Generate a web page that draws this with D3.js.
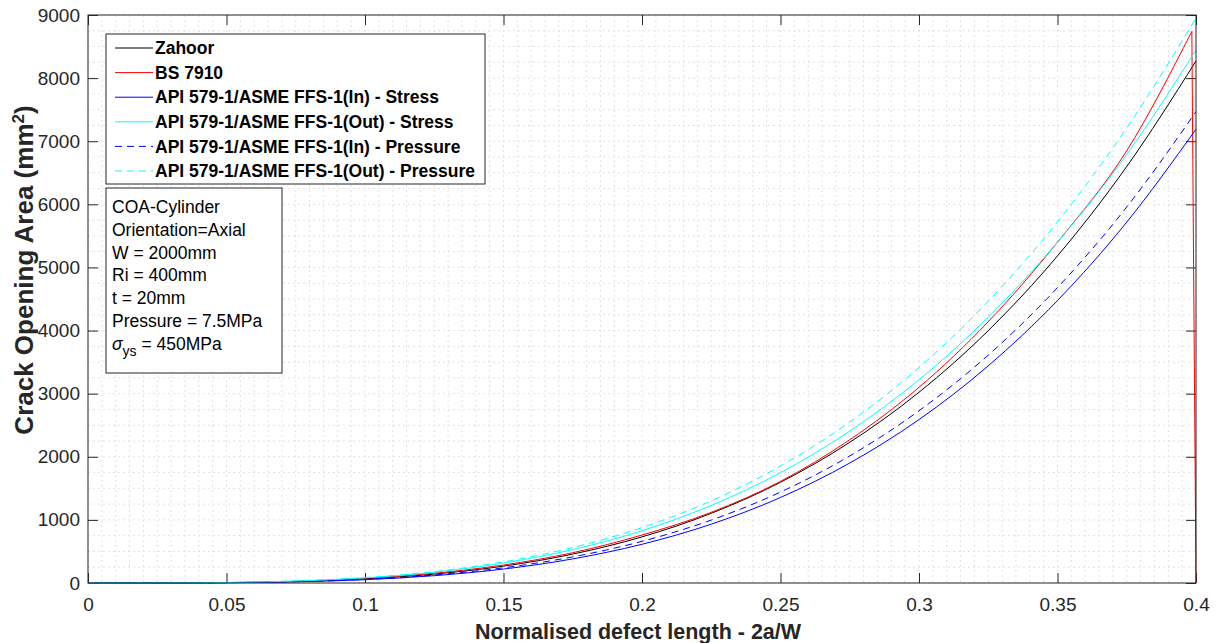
<!DOCTYPE html>
<html>
<head>
<meta charset="utf-8">
<script src="https://cdn.jsdelivr.net/npm/d3@7/dist/d3.min.js"></script>
<style>
body { margin: 0; background: #fff; }
text { font-family: "Liberation Sans", Arial, Helvetica, sans-serif; }
</style>
</head>
<body>
<div id="chart"></div>
<script>
// tick values
var xTicks = [0, 0.05, 0.1, 0.15, 0.2, 0.25, 0.3, 0.35, 0.4];
var xTickLabels = ["0", "0.05", "0.1", "0.15", "0.2", "0.25", "0.3", "0.35", "0.4"];
var yTicks = [0, 1000, 2000, 3000, 4000, 5000, 6000, 7000, 8000, 9000];

// normalised defect length 2a/W (shared by most series)
var defectX = [0, 0.025, 0.05, 0.075, 0.1, 0.125, 0.15, 0.175, 0.2, 0.225, 0.25, 0.275, 0.3, 0.325, 0.35, 0.375, 0.4];

// crack opening area (mm^2)
var zahoor         = [0, 0.5, 6, 24, 66, 141, 267, 458, 731, 1104, 1596, 2229, 3022, 3999, 5183, 6599, 8271];
var apiInStress    = [0, 0.4, 4.5, 19, 52, 116, 221, 382, 614, 932, 1355, 1901, 2589, 3441, 4476, 5718, 7190];
var apiOutStress   = [0, 0.8, 8, 31, 81, 171, 316, 530, 828, 1229, 1749, 2407, 3221, 4213, 5400, 6790, 8445];
var apiInPressure  = [0, 0.5, 5, 21, 58, 127, 241, 414, 660, 997, 1441, 2013, 2729, 3611, 4680, 5958, 7468];
var apiOutPressure = [0, 0.8, 8.5, 33, 86, 181, 335, 562, 878, 1302, 1854, 2551, 3414, 4465, 5723, 7211, 8950];

// BS 7910 stops just before 0.4 and drops to zero
var bs7910X = [0, 0.025, 0.05, 0.075, 0.1, 0.125, 0.15, 0.175, 0.2, 0.225, 0.25, 0.275, 0.3, 0.325, 0.35, 0.375, 0.3985, 0.4];
var bs7910  = [0, 0.6, 6.5, 27, 75, 155, 285, 480, 760, 1120, 1610, 2270, 3100, 4140, 5400, 6850, 8740, 0];

var legendNames = ["Zahoor", "BS 7910", "API 579-1/ASME FFS-1(In) - Stress", "API 579-1/ASME FFS-1(Out) - Stress",
                   "API 579-1/ASME FFS-1(In) - Pressure", "API 579-1/ASME FFS-1(Out) - Pressure"];
var infoLines = ["COA-Cylinder", "Orientation=Axial", "W = 2000mm", "Ri = 400mm", "t = 20mm", "Pressure = 7.5MPa"];

var margin = {top: 15, right: 25, bottom: 60, left: 88},
    width = 1221 - margin.left - margin.right,
    height = 643 - margin.top - margin.bottom;

var axisColor = "#262626";

var svgRoot = d3.select("#chart")
  .append("svg")
  .attr("width", 1221)
  .attr("height", 643);

var svg = svgRoot.append("g")
  .attr("transform", "translate(" + margin.left + "," + margin.top + ")");

var x = d3.scaleLinear().domain([0, 0.4]).range([0, width]);
var y = d3.scaleLinear().domain([0, 9000]).range([height, 0]);

// dotted grid (every 0.005 and every 250)
var gridX = d3.range(0, 81).map(function(i) { return i * 0.005; });
var gridY = d3.range(0, 37).map(function(i) { return i * 250; });

svg.append("g").selectAll("line")
  .data(gridX)
  .enter().append("line")
  .attr("x1", function(d) { return x(d); })
  .attr("x2", function(d) { return x(d); })
  .attr("y1", 0)
  .attr("y2", height)
  .attr("stroke", "#e2e2e2")
  .attr("stroke-dasharray", "2,3");

svg.append("g").selectAll("line")
  .data(gridY)
  .enter().append("line")
  .attr("x1", 0)
  .attr("x2", width)
  .attr("y1", function(d) { return y(d); })
  .attr("y2", function(d) { return y(d); })
  .attr("stroke", "#e2e2e2")
  .attr("stroke-dasharray", "2,3");

// axes with inward ticks, on all four sides
var xAxis = svg.append("g")
  .attr("transform", "translate(0," + height + ")")
  .call(d3.axisBottom(x).tickValues(xTicks).tickSizeInner(-10).tickSizeOuter(0)
        .tickFormat(function(d, i) { return xTickLabels[i]; }));
xAxis.selectAll("text").attr("dy", "0").attr("y", 28).style("font-size", "19px").attr("fill", axisColor);

var yAxis = svg.append("g")
  .call(d3.axisLeft(y).tickValues(yTicks).tickSizeInner(-10).tickSizeOuter(0).tickFormat(d3.format("d")));
yAxis.selectAll("text").attr("x", -8).style("font-size", "19px").attr("fill", axisColor);

svg.append("g")
  .call(d3.axisTop(x).tickValues(xTicks).tickSizeInner(-10).tickSizeOuter(0).tickFormat(""));
svg.append("g")
  .attr("transform", "translate(" + width + ",0)")
  .call(d3.axisRight(y).tickValues(yTicks).tickSizeInner(-10).tickSizeOuter(0).tickFormat(""));

svg.selectAll(".domain").remove();
svg.selectAll(".tick line").attr("stroke", axisColor);

// curves
var series = [
  {xs: defectX, ys: zahoor,         color: "#000000", dash: null},
  {xs: bs7910X, ys: bs7910,         color: "#ff0000", dash: null, drop: true},
  {xs: defectX, ys: apiInStress,    color: "#0000ff", dash: null},
  {xs: defectX, ys: apiOutStress,   color: "#00ffff", dash: null},
  {xs: defectX, ys: apiInPressure,  color: "#0000ff", dash: "7,5"},
  {xs: defectX, ys: apiOutPressure, color: "#00ffff", dash: "7,5"}
];

var line = d3.line()
  .x(function(d) { return x(d[0]); })
  .y(function(d) { return y(d[1]); })
  .curve(d3.curveMonotoneX);

function pathFor(s) {
  var pts = d3.zip(s.xs, s.ys);
  if (!s.drop) return line(pts);
  // smooth part, then a straight drop for the last point
  var last = pts.pop();
  return line(pts) + "L" + x(last[0]) + "," + y(last[1]);
}

svg.append("g").selectAll("path")
  .data(series)
  .enter().append("path")
  .attr("d", pathFor)
  .attr("fill", "none")
  .attr("stroke", function(s) { return s.color; })
  .attr("stroke-width", 1)
  .attr("stroke-dasharray", function(s) { return s.dash; });

// axes box
svg.append("rect")
  .attr("width", width)
  .attr("height", height)
  .attr("fill", "none")
  .attr("stroke", axisColor)
  .attr("stroke-width", 1);

// legend
var legend = svgRoot.append("g").attr("transform", "translate(106,34)");
legend.append("rect")
  .attr("width", 379)
  .attr("height", 150)
  .attr("fill", "#fff")
  .attr("stroke", axisColor);

var rows = legend.selectAll("g.row")
  .data(series)
  .enter().append("g")
  .attr("class", "row")
  .attr("transform", function(d, i) { return "translate(0," + (14 + i * 24.6) + ")"; });

rows.append("line")
  .attr("x1", 9).attr("x2", 47)
  .attr("stroke", function(s) { return s.color; })
  .attr("stroke-dasharray", function(s) { return s.dash; });

rows.append("text")
  .attr("x", 49)
  .attr("dy", "0.35em")
  .style("font-size", "17.5px")
  .style("font-weight", "bold")
  .attr("fill", "#000")
  .text(function(d, i) { return legendNames[i]; });

// info box
var info = svgRoot.append("g").attr("transform", "translate(106,188)");
info.append("rect")
  .attr("width", 176)
  .attr("height", 185)
  .attr("fill", "#fff")
  .attr("stroke", axisColor);

info.selectAll("text.line")
  .data(infoLines)
  .enter().append("text")
  .attr("class", "line")
  .attr("x", 6)
  .attr("y", function(d, i) { return 25 + i * 22.8; })
  .style("font-size", "17.5px")
  .attr("fill", "#000")
  .text(function(d) { return d; });

var sig = info.append("text")
  .attr("x", 6)
  .attr("y", 25 + 6 * 22.8)
  .style("font-size", "17.5px")
  .attr("fill", "#000");
sig.append("tspan").style("font-style", "italic").text("\u03c3");
sig.append("tspan").attr("dy", 6).style("font-size", "14px").text("ys");
sig.append("tspan").attr("dy", -6).text(" = 450MPa");

// axis titles
svgRoot.append("text")
  .attr("x", 638)
  .attr("y", 639)
  .attr("text-anchor", "middle")
  .style("font-size", "21.5px")
  .style("font-weight", "bold")
  .attr("fill", axisColor)
  .text("Normalised defect length - 2a/W");

var yTitle = svgRoot.append("text")
  .attr("transform", "translate(33," + 270 + ") rotate(-90)")
  .attr("text-anchor", "middle")
  .style("font-size", "26px")
  .style("font-weight", "bold")
  .attr("fill", axisColor);
yTitle.append("tspan").text("Crack Opening Area (mm");
yTitle.append("tspan").attr("dy", -9).style("font-size", "17px").text("2");
yTitle.append("tspan").attr("dy", 9).text(")");
</script>
</body>
</html>
